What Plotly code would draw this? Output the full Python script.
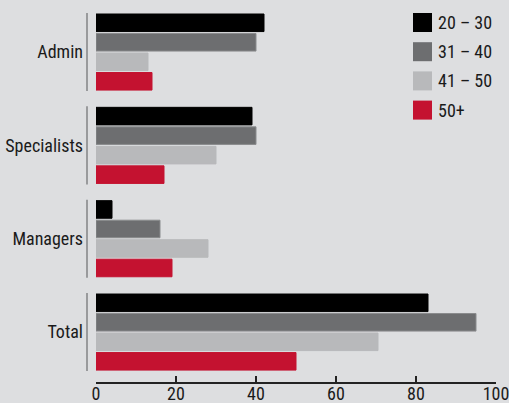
import plotly.graph_objects as go

categories = ["Admin", "Specialists", "Managers", "Total"]
series_names = ["20 – 30", "31 – 40", "41 – 50", "50+"]
s20_30 = [42, 39, 4, 83]
s31_40 = [40, 40, 16, 95]
s41_50 = [13, 30, 28, 70.5]
s50_plus = [14, 17, 19, 50]
x_ticks = [0, 20, 40, 60, 80, 100]

series_values = [s20_30, s31_40, s41_50, s50_plus]
colors = ["#000000", "#6d6e70", "#b8b9bb", "#c41230"]
line_colors = ["#000000", "#8a8b8d", "#b8b9bb", "#c41230"]

FONT = "Roboto Condensed, Liberation Sans Narrow, sans-serif"
BG = "#dddee0"

W, H = 509, 403
ML, MR, MT, MB = 96, 13, 5, 21
PW, PH = W - ML - MR, H - MT - MB

fig = go.Figure()
for name, vals, c, lc in zip(series_names, series_values, colors, line_colors):
    fig.add_trace(go.Bar(
        y=list(range(len(categories))), x=vals, name=name, orientation="h",
        marker=dict(color=c, line=dict(color=lc, width=1)),
        showlegend=False,
    ))

shapes = []
annotations = []
# group separator lines left of plot
for i in range(len(categories)):
    shapes.append(dict(type="line", xref="paper", yref="y",
                       x0=-9 / PW, x1=-9 / PW, y0=i - 0.418, y1=i + 0.418,
                       line=dict(color="#999a9c", width=2)))

# custom legend
for k, (name, c) in enumerate(zip(series_names, colors)):
    top = 13 + k * 29.2
    shapes.append(dict(type="rect", xref="paper", yref="paper",
                       x0=(413 - ML) / PW, x1=(432 - ML) / PW,
                       y0=(H - MB - (top + 19)) / PH, y1=(H - MB - top) / PH,
                       fillcolor=c, line=dict(width=0)))
    annotations.append(dict(xref="paper", yref="paper",
                            x=(436 - ML) / PW, y=(H - MB - (top + 9.5)) / PH,
                            text=name, showarrow=False, xanchor="left", yanchor="middle",
                            font=dict(family=FONT, size=18, color="#1a1a1a")))

fig.update_layout(
    width=W, height=H,
    margin=dict(l=ML, r=MR, t=MT, b=MB, autoexpand=False),
    paper_bgcolor=BG, plot_bgcolor=BG,
    barmode="group", bargap=0.164, bargroupgap=0.1,
    shapes=shapes, annotations=annotations,
    font=dict(family=FONT, color="#1a1a1a"),
    xaxis=dict(range=[0, 100], tickvals=x_ticks, ticktext=[str(t) for t in x_ticks],
               showgrid=False, zeroline=False, showline=True, linecolor="#222222", linewidth=1.5,
               ticks="inside", ticklen=6, tickcolor="#222222", tickwidth=1.5, automargin=False,
               ticklabelstandoff=-5, ticklabeloverflow="allow",
               tickfont=dict(family=FONT, size=18, color="#1a1a1a"), fixedrange=True),
    yaxis=dict(range=[3.535, -0.504], tickvals=list(range(len(categories))), ticktext=categories,
               showgrid=False, zeroline=False, showline=False, ticks="", automargin=False,
               ticklabelstandoff=12,
               tickfont=dict(family=FONT, size=18, color="#1a1a1a"), fixedrange=True),
)

fig.write_html("out.html", config={"displayModeBar": False},
               post_script="document.body.style.margin='0';document.body.style.padding='0';")
